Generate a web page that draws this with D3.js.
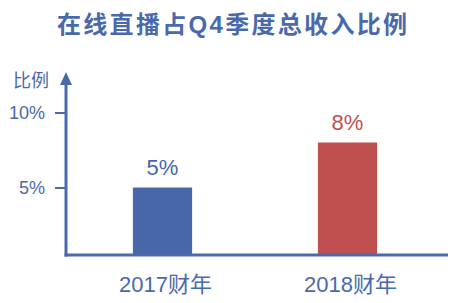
<!DOCTYPE html>
<html>
<head>
<meta charset="utf-8">
<script src="https://cdn.jsdelivr.net/npm/d3@7"></script>
<style>
  body { margin: 0; background: #fff; }
  text { font-family: "Liberation Sans", "Noto Sans CJK SC", sans-serif; }
</style>
</head>
<body>
<svg id="chart" width="468" height="303"></svg>
<script>
// 数据
var categories = ['2017财年', '2018财年'];
var values = [5, 8];
var valueLabels = ['5%', '8%'];
var barColors = ['#4767aa', '#c0504f'];
var tickValues = [5, 10];
var tickLabels = ['5%', '10%'];

var axisColor = '#4a6ab0';
var svg = d3.select('#chart');

// 标题（宽度拉到 350px 左右）
svg.append('text')
  .attr('x', 232).attr('y', 33)
  .attr('text-anchor', 'middle')
  .attr('textLength', 350).attr('lengthAdjust', 'spacing')
  .style('font-size', '24px').style('font-weight', 'bold')
  .style('fill', '#4a69ab')
  .text('在线直播占Q4季度总收入比例');

var x = d3.scaleBand().domain(categories).range([70, 440]).paddingInner(0.68).paddingOuter(0.34);
var y = d3.scaleLinear().domain([0.5, 10]).range([255, 112.5]);

// 柱子
svg.selectAll('rect.bar').data(values).enter().append('rect')
  .attr('class', 'bar')
  .attr('x', function(d, i){ return x(categories[i]); })
  .attr('width', x.bandwidth())
  .attr('y', function(d){ return y(d); })
  .attr('height', function(d){ return y(0.5) - y(d); })
  .style('fill', function(d, i){ return barColors[i]; });

// 数值标签
svg.selectAll('text.val').data(values).enter().append('text')
  .attr('class', 'val')
  .attr('x', function(d, i){ return x(categories[i]) + x.bandwidth()/2; })
  .attr('y', function(d){ return y(d) - 13; })
  .attr('text-anchor', 'middle')
  .style('font-size', '22px')
  .style('fill', function(d, i){ return barColors[i]; })
  .text(function(d, i){ return valueLabels[i]; });

// y轴
var yAxis = d3.axisLeft(y).tickValues(tickValues).tickSize(11)
  .tickFormat(function(d, i){ return tickLabels[i]; });
var gy = svg.append('g').attr('transform', 'translate(66,0)').call(yAxis);
gy.select('.domain').remove();
gy.selectAll('.tick line').style('stroke', axisColor).style('stroke-width', 2);
gy.selectAll('.tick text').attr('x', -21)
  .style('font-size', '18px').style('fill', '#4a69ab');

svg.append('line')
  .attr('x1', 66).attr('x2', 66).attr('y1', 84).attr('y2', y(0.5) + 1.5)
  .style('stroke', axisColor).style('stroke-width', 3);
svg.append('path')
  .attr('d', 'M66,72 L60,85 L72,85 Z')
  .style('fill', axisColor);
svg.append('text')
  .attr('x', 31).attr('y', 87)
  .attr('text-anchor', 'middle')
  .style('font-size', '18px').style('fill', '#4a69ab')
  .text('比例');

// x轴
svg.append('line')
  .attr('x1', 64.5).attr('x2', 448).attr('y1', y(0.5)).attr('y2', y(0.5))
  .style('stroke', axisColor).style('stroke-width', 3);
svg.selectAll('text.cat').data(categories).enter().append('text')
  .attr('class', 'cat')
  .attr('x', function(d){ return x(d) + x.bandwidth()/2 + 3; })
  .attr('y', 292)
  .attr('text-anchor', 'middle')
  .style('font-size', '22px').style('fill', '#4a69ab')
  .text(function(d){ return d; });
</script>
</body>
</html>
